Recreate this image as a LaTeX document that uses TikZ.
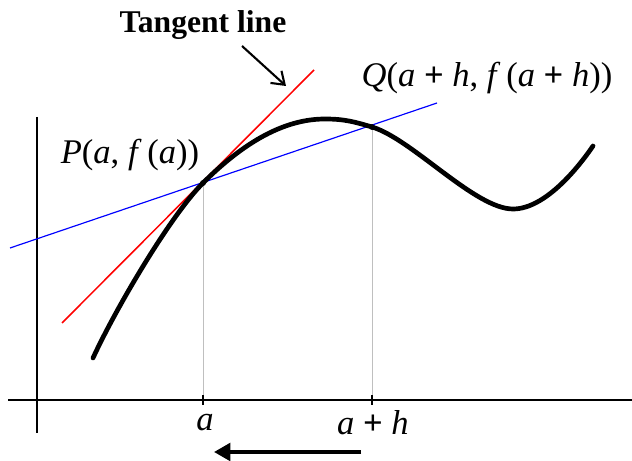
\documentclass[tikz,border=0pt]{standalone}
\usepackage{fontspec}
\setmainfont{Liberation Serif}
\usetikzlibrary{arrows.meta}
\begin{document}
\begin{tikzpicture}[x=0.03cm, y=-0.03cm,
        axis/.style={line width=1.2pt, black},
        guide/.style={line width=0.7pt, black!25},
        curve/.style={line width=4pt, black, line cap=round, line join=round},
        tangent/.style={line width=1.3pt, red},
        secant/.style={line width=1pt, blue},
        label/.style={font=\fontsize{29.5}{31}\selectfont, inner sep=0pt},
        dot/.style={circle, fill=black, inner sep=0pt, minimum size=5pt}
    ]
    \useasboundingbox (0,0) rectangle (632,461);
    % Points
    \coordinate (P) at (203,183);
    \coordinate (Q) at (372,127);
    \coordinate (Pa) at (203,400);
    \coordinate (Qa) at (372,400);
    \coordinate (T1) at (62,323);
    \coordinate (T2) at (314,70);
    \coordinate (S1) at (10,248);
    \coordinate (S2) at (437,103);
    \coordinate (X1) at (8,400);
    \coordinate (X2) at (632,400);
    \coordinate (Y1) at (37,117);
    \coordinate (Y2) at (37,433);
    % Axes
    \draw[axis] (X1) -- (X2);
    \draw[axis] (Y1) -- (Y2);
    \draw[guide] (P) -- (Pa);
    \draw[guide] (Q) -- (Qa);
    \draw[axis] ([yshift=-4pt]Pa) -- ([yshift=4pt]Pa);
    \draw[axis] ([yshift=-4pt]Qa) -- ([yshift=4pt]Qa);
    % Lines
    \draw[tangent] (T1) -- (T2);
    \draw[secant] (S1) -- (S2);
    \draw[curve] (93,358) .. controls (115,310) and (170,216) .. (P)
        .. controls (250,136) and (290,119) .. (325,119)
        .. controls (345,119) and (355,122) .. (Q)
        .. controls (412,139) and (475,209) .. (513,209)
        .. controls (545,209) and (578,168) .. (593,146);
    \node[dot] at (P) {};
    \node[dot] at (Q) {};
    % Labels
    \node[label, font=\fontsize{27}{29}\selectfont\bfseries] (tl) at (203,25) {Tangent line};
    \node[label] (Plab) at (130,155) {\textit{P}(\textit{a}, \textit{f}\,(\textit{a}))};
    \node[label] (Qlab) at (487,78) {\textit{Q}(\textit{a} \textbf{+} \textit{h}, \textit{f}\,(\textit{a} \textbf{+} \textit{h}))};
    \node[label] (alab) at (205,423) {\textit{a}};
    \node[label] (ahlab) at (373,423) {\textit{a} \textbf{+} \textit{h}};
    % Arrows
    \coordinate (tip) at (286,86);
    \coordinate (tail) at (242,46);
    \draw[line width=1.8pt, -{Straight Barb[length=10pt, width=14pt]}] (tail) -- (tip);
    \coordinate (from) at (361,452);
    \coordinate (to) at (214,452);
    \draw[line width=3.2pt, -{Triangle[length=14pt, width=15pt]}] (from) -- (to);
\end{tikzpicture}
\end{document}
